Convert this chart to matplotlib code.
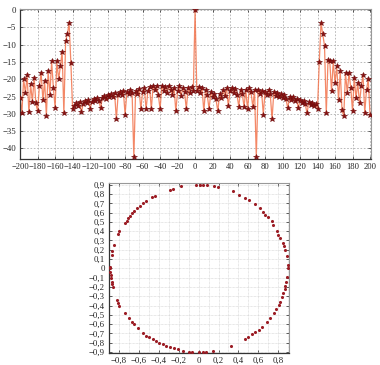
import numpy as np
import matplotlib
matplotlib.use("Agg")
import matplotlib.pyplot as plt
from matplotlib.ticker import FuncFormatter, MultipleLocator

plt.rcParams['font.family'] = ['Liberation Serif', 'DejaVu Serif']
plt.rcParams['font.size'] = 6.3

# --- spectrum (top panel), sampled every 2 bins from -200 to 200 ---
spec_x = np.arange(-200, 201, 2)
spec_left = [-25.5, -29.7, -20.0, -24.0, -18.8, -29.6, -21.5, -26.5, -19.5, -27.0,
             -29.2, -22.0, -18.1, -26.0, -20.5, -30.6, -17.7, -24.5, -14.8, -22.5,
             -28.2, -14.8, -20.0, -16.3, -12.0, -29.9, -9.0, -6.9, -3.8, -15.2]
spec_mid_left = [-28.7, -27.6, -27.0, -27.8, -26.6, -29.6, -27.2, -26.3, -27.0, -26.0,
                 -28.6, -26.5, -25.6, -26.4, -25.4, -26.2, -28.4, -25.3, -24.8, -25.7,
                 -24.6, -25.2, -24.3, -25.0, -24.0, -31.6, -24.5, -23.7, -24.6, -23.4,
                 -30.2, -23.8, -24.4, -23.2, -24.0, -42.5, -23.4, -24.2, -22.8, -28.7,
                 -23.6, -22.6, -28.7, -23.5, -22.3, -28.7, -21.8, -23.2, -22.0, -24.5,
                 -28.7, -21.8, -23.4, -22.2, -24.0, -21.9, -23.0, -24.6, -22.4, -29.3,
                 -23.5, -22.0, -24.8, -22.6, -23.8, -28.7, -22.4, -24.0, -22.2, -23.5]
spec_center = [0.0]
spec_mid_right = [-23.4, -22.2, -24.0, -22.6, -29.3, -23.0, -24.6, -28.7, -23.8, -25.0,
                  -24.2, -25.8, -29.3, -24.4, -25.5, -23.2, -24.8, -22.6, -27.8, -23.4,
                  -22.4, -24.0, -22.8, -24.5, -28.0, -23.0, -24.2, -28.0, -23.2, -28.7,
                  -22.6, -23.8, -28.0, -23.2, -42.5, -23.0, -24.2, -23.4, -30.2, -23.6,
                  -24.6, -23.0, -24.4, -31.6, -23.8, -24.8, -24.0, -25.2, -24.3, -25.5,
                  -24.6, -25.8, -28.4, -25.0, -26.0, -25.2, -26.4, -25.6, -28.4, -26.0,
                  -26.8, -26.2, -27.2, -29.9, -26.6, -27.4, -26.8, -27.8, -27.2]
spec_right = [-28.5, -15.0, -3.7, -6.9, -10.3, -29.9, -14.4, -14.8, -23.5, -14.8,
              -21.0, -16.3, -26.0, -17.7, -29.0, -30.6, -18.1, -24.0, -18.1, -22.5,
              -29.2, -19.5, -25.5, -21.0, -27.0, -22.0, -18.9, -29.7, -23.0, -20.0,
              -30.2]
spec_y = spec_left + spec_mid_left + spec_center + spec_mid_right + spec_right

# --- constellation points (bottom panel) ---
circ_x = [-0.025, 0.015, 0.046, 0.086, 0.156, 0.197, 0.344, 0.408, 0.468, 0.508,
          0.569, 0.619, 0.646, 0.669, 0.697, 0.737, 0.750, 0.787, 0.800, 0.820,
          0.847, 0.860, 0.871, 0.888, 0.894, 0.894, 0.888, 0.881, 0.871, 0.864,
          0.847, 0.837, 0.820, 0.803, 0.780, 0.760, 0.720, 0.692, 0.636, 0.602,
          0.569, 0.536, 0.501, 0.468, 0.324, 0.143, 0.076, 0.049, 0.008, -0.068,
          -0.095, -0.153, -0.203, -0.246, -0.286, -0.327, -0.360, -0.394, -0.427, -0.460,
          -0.495, -0.528, -0.561, -0.605, -0.648, -0.672, -0.696, -0.739, -0.796, -0.806,
          -0.823, -0.863, -0.867, -0.873, -0.877, -0.883, -0.887, -0.887, -0.887, -0.873,
          -0.867, -0.847, -0.806, -0.796, -0.739, -0.722, -0.706, -0.689, -0.672, -0.648,
          -0.615, -0.588, -0.555, -0.528, -0.464, -0.437, -0.286, -0.253, -0.176]
circ_y = [0.900, 0.900, 0.900, 0.900, 0.890, 0.879, 0.828, 0.793, 0.760, 0.731,
          0.696, 0.653, 0.602, 0.577, 0.556, 0.505, 0.469, 0.397, 0.362, 0.329,
          0.275, 0.236, 0.200, 0.128, 0.038, 0.006, -0.088, -0.142, -0.188, -0.220,
          -0.263, -0.307, -0.357, -0.393, -0.436, -0.479, -0.533, -0.573, -0.627, -0.662,
          -0.680, -0.705, -0.734, -0.762, -0.835, -0.888, -0.899, -0.899, -0.899, -0.899,
          -0.896, -0.885, -0.870, -0.853, -0.842, -0.831, -0.813, -0.799, -0.781, -0.762,
          -0.741, -0.724, -0.698, -0.644, -0.601, -0.573, -0.536, -0.476, -0.404, -0.374,
          -0.339, -0.202, -0.166, -0.142, -0.105, -0.069, -0.034, 0.003, 0.020, 0.146,
          0.182, 0.254, 0.372, 0.397, 0.488, 0.512, 0.541, 0.566, 0.595, 0.620,
          0.649, 0.674, 0.703, 0.720, 0.764, 0.774, 0.847, 0.854, 0.882]


def fmt_num(v, pos):
    s = f"{v:.1f}" if abs(v - round(v)) > 1e-9 else f"{int(round(v))}"
    if abs(v) < 1e-9:
        s = "0"
    return s.replace("-", "\u2212").replace(".", ",")


def style_axes(ax):
    ax.tick_params(direction='in', length=2.5, width=0.5, top=True, right=True,
                   colors='#222222', pad=3)
    for side in ['left', 'bottom']:
        ax.spines[side].set_color('#333333')
        ax.spines[side].set_linewidth(0.9)
    for side in ['top', 'right']:
        ax.spines[side].set_color('#999999')
        ax.spines[side].set_linewidth(0.8)


fig = plt.figure(figsize=(3.8, 3.65), dpi=100)

ax1 = fig.add_axes([0.053, 0.565, 0.923, 0.41])
ax1.plot(spec_x, spec_y, color='#f2734c', lw=0.9, alpha=0.85, zorder=2)
ax1.plot(spec_x, spec_y, ls='none', marker='*', ms=4.3, color='#8b1010',
         markeredgecolor='#6e0c0c', markeredgewidth=0.4, zorder=3)
ax1.set_xlim(-200, 201)
ax1.set_ylim(-43, 0.3)
ax1.xaxis.set_major_locator(MultipleLocator(20))
ax1.yaxis.set_major_locator(MultipleLocator(5))
ax1.xaxis.set_major_formatter(FuncFormatter(fmt_num))
ax1.yaxis.set_major_formatter(FuncFormatter(fmt_num))
ax1.grid(True, ls=(0, (2, 2)), color='#b0b0b0', lw=0.6)
ax1.set_axisbelow(True)
style_axes(ax1)
ax1.tick_params(axis='x', labelsize=6.1)

ax2 = fig.add_axes([0.287, 0.033, 0.474, 0.466])
ax2.scatter(circ_x, circ_y, s=5, color='#9b1c24', linewidths=0, zorder=3)
ax2.set_xlim(-0.9, 0.91)
ax2.set_ylim(-0.91, 0.92)
ax2.xaxis.set_major_locator(MultipleLocator(0.2))
ax2.xaxis.set_minor_locator(MultipleLocator(0.1))
ax2.yaxis.set_major_locator(MultipleLocator(0.1))
ax2.xaxis.set_major_formatter(FuncFormatter(fmt_num))
ax2.yaxis.set_major_formatter(FuncFormatter(fmt_num))
ax2.grid(True, which='both', ls=(0, (1, 1)), color='#d0d0d0', lw=0.5)
ax2.set_axisbelow(True)
style_axes(ax2)
ax2.tick_params(which='minor', length=0)

fig.savefig("out.png", dpi=100)
